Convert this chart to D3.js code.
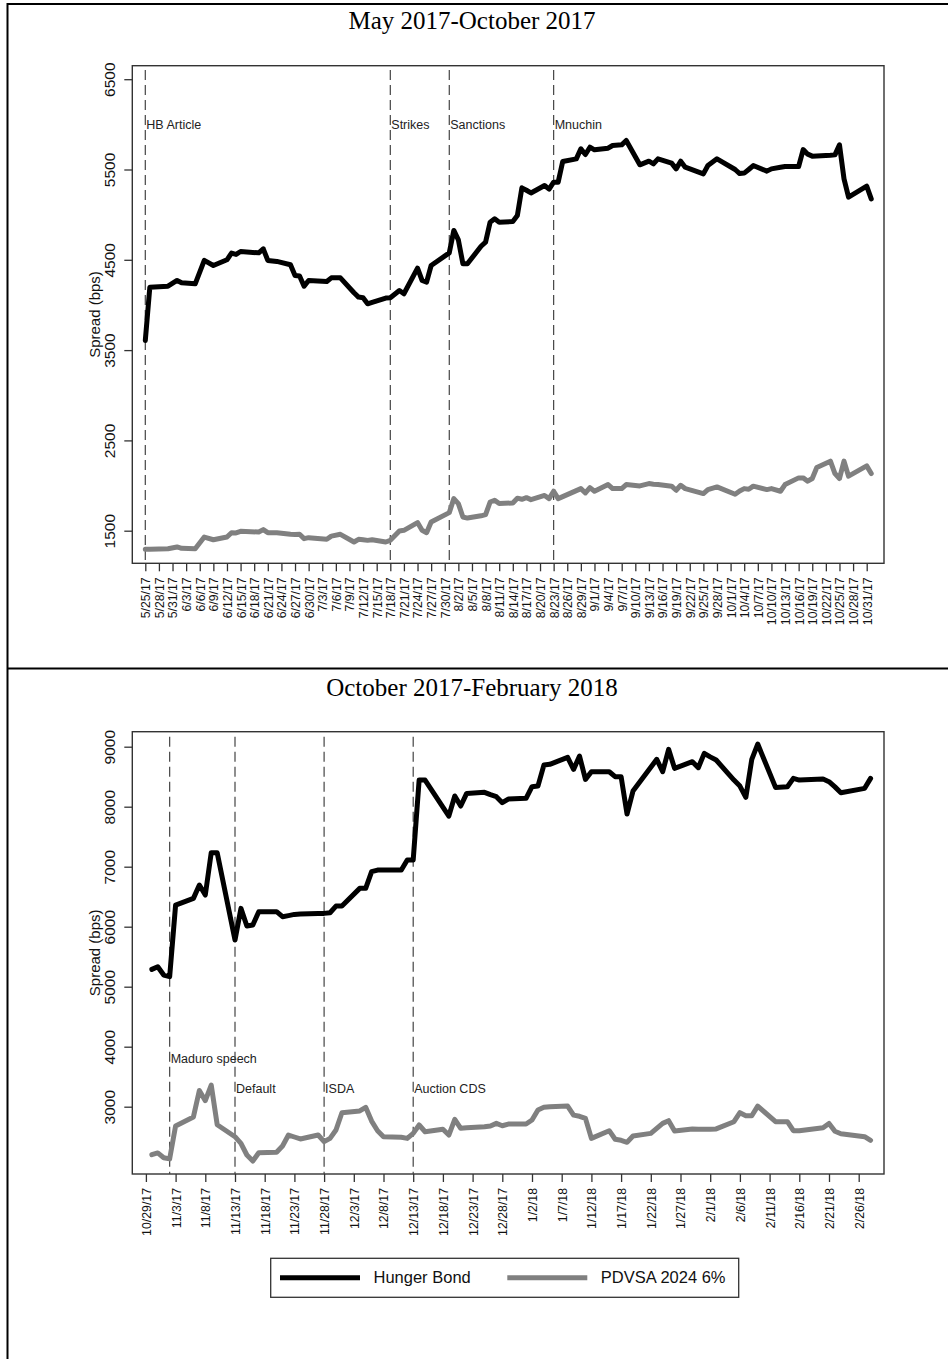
<!DOCTYPE html>
<html><head><meta charset="utf-8">
<script src="https://cdn.jsdelivr.net/npm/d3@7"></script>
<style>html,body{margin:0;padding:0;background:#fff}</style>
</head><body>
<script>
// ---------- DATA ----------
const topTitle = "May 2017-October 2017";
const bottomTitle = "October 2017-February 2018";
const seriesNames = ["Hunger Bond", "PDVSA 2024 6%"];

const topDates = ["2017-05-25","2017-05-26","2017-05-30","2017-06-01","2017-06-02","2017-06-05","2017-06-07","2017-06-09","2017-06-12","2017-06-13","2017-06-14","2017-06-15","2017-06-19","2017-06-20","2017-06-21","2017-06-23","2017-06-26","2017-06-27","2017-06-28","2017-06-29","2017-06-30","2017-07-04","2017-07-05","2017-07-07","2017-07-10","2017-07-11","2017-07-12","2017-07-13","2017-07-14","2017-07-17","2017-07-18","2017-07-20","2017-07-21","2017-07-24","2017-07-25","2017-07-26","2017-07-27","2017-07-31","2017-08-01","2017-08-02","2017-08-03","2017-08-04","2017-08-07","2017-08-08","2017-08-09","2017-08-10","2017-08-11","2017-08-14","2017-08-15","2017-08-16","2017-08-17","2017-08-18","2017-08-21","2017-08-22","2017-08-23","2017-08-24","2017-08-25","2017-08-28","2017-08-29","2017-08-30","2017-08-31","2017-09-01","2017-09-04","2017-09-05","2017-09-07","2017-09-08","2017-09-11","2017-09-13","2017-09-14","2017-09-15","2017-09-18","2017-09-19","2017-09-20","2017-09-21","2017-09-25","2017-09-26","2017-09-28","2017-10-02","2017-10-03","2017-10-04","2017-10-05","2017-10-06","2017-10-09","2017-10-10","2017-10-12","2017-10-13","2017-10-16","2017-10-17","2017-10-18","2017-10-19","2017-10-20","2017-10-23","2017-10-24","2017-10-25","2017-10-26","2017-10-27","2017-10-31","2017-11-01"];
const topHunger = [3607,4197,4208,4271,4245,4234,4493,4437,4500,4574,4560,4592,4577,4622,4493,4482,4445,4327,4320,4208,4271,4260,4300,4300,4135,4087,4080,4013,4029,4076,4080,4160,4124,4408,4271,4253,4437,4577,4825,4721,4456,4456,4650,4696,4917,4954,4917,4924,4990,5297,5270,5240,5323,5283,5360,5360,5589,5618,5729,5666,5747,5718,5736,5766,5773,5821,5552,5592,5563,5618,5570,5507,5592,5526,5452,5544,5618,5500,5455,5460,5500,5544,5482,5507,5525,5533,5533,5721,5670,5648,5650,5658,5662,5773,5397,5194,5315,5175];
const topPdvsa = [1295,1295,1300,1320,1305,1300,1430,1400,1430,1478,1475,1493,1485,1512,1478,1478,1460,1458,1460,1412,1423,1405,1440,1460,1375,1405,1400,1393,1400,1375,1393,1497,1504,1590,1504,1478,1597,1700,1855,1800,1652,1640,1665,1678,1818,1837,1800,1807,1860,1848,1866,1844,1890,1855,1937,1855,1877,1944,1966,1918,1977,1937,2011,1966,1966,2011,1996,2022,2015,2011,1993,1948,2003,1966,1911,1955,1985,1904,1940,1966,1959,1993,1955,1966,1937,2011,2085,2085,2048,2078,2200,2270,2133,2078,2270,2104,2218,2133];

const bottomDates = ["2017-10-30","2017-10-31","2017-11-01","2017-11-02","2017-11-03","2017-11-06","2017-11-07","2017-11-08","2017-11-09","2017-11-10","2017-11-13","2017-11-14","2017-11-15","2017-11-16","2017-11-17","2017-11-20","2017-11-21","2017-11-22","2017-11-23","2017-11-24","2017-11-27","2017-11-28","2017-11-29","2017-11-30","2017-12-01","2017-12-04","2017-12-05","2017-12-06","2017-12-07","2017-12-08","2017-12-11","2017-12-12","2017-12-13","2017-12-14","2017-12-15","2017-12-18","2017-12-19","2017-12-20","2017-12-21","2017-12-22","2017-12-25","2017-12-26","2017-12-27","2017-12-28","2017-12-29","2018-01-01","2018-01-02","2018-01-03","2018-01-04","2018-01-05","2018-01-08","2018-01-09","2018-01-10","2018-01-11","2018-01-12","2018-01-15","2018-01-16","2018-01-17","2018-01-18","2018-01-19","2018-01-22","2018-01-23","2018-01-24","2018-01-25","2018-01-26","2018-01-29","2018-01-30","2018-01-31","2018-02-01","2018-02-02","2018-02-05","2018-02-06","2018-02-07","2018-02-08","2018-02-09","2018-02-12","2018-02-14","2018-02-15","2018-02-16","2018-02-20","2018-02-21","2018-02-22","2018-02-23","2018-02-27","2018-02-28"];
const bottomHunger = [5289,5333,5194,5167,6361,6472,6694,6528,7233,7233,5778,6306,6011,6028,6250,6250,6167,6185,6205,6210,6220,6222,6233,6344,6344,6639,6639,6917,6944,6944,6944,7111,7111,8444,8444,7994,7844,8178,8011,8222,8239,8200,8167,8067,8128,8139,8333,8344,8694,8706,8822,8622,8844,8456,8583,8583,8500,8500,7878,8261,8657,8789,8583,8956,8639,8750,8650,8889,8830,8778,8444,8344,8156,8789,9044,8322,8333,8472,8444,8461,8417,8330,8233,8306,8472];
const bottomPdvsa = [2200,2230,2150,2130,2680,2830,3270,3100,3360,2700,2500,2390,2195,2095,2233,2240,2345,2528,2495,2462,2528,2417,2472,2611,2900,2930,2990,2760,2600,2500,2490,2472,2555,2695,2583,2623,2528,2790,2640,2650,2665,2678,2722,2683,2711,2711,2778,2945,2990,3000,3010,2860,2840,2806,2472,2600,2457,2440,2407,2512,2555,2640,2722,2767,2595,2628,2625,2625,2623,2630,2750,2900,2850,2850,3010,2750,2750,2600,2600,2650,2720,2590,2550,2500,2440];

const topEventDates = ["2017-05-25","2017-07-18","2017-07-31","2017-08-23"];
const topEventLabels = ["HB Article","Strikes","Sanctions","Mnuchin"];
const topEventLevels = [6000,6000,6000,6000];
const bottomEventDates = ["2017-11-02","2017-11-13","2017-11-28","2017-12-13"];
const bottomEventLabels = ["Maduro speech","Default","ISDA","Auction CDS"];
const bottomEventLevels = [3800,3300,3300,3300];

const topYTicks = [1500,2500,3500,4500,5500,6500];
const bottomYTicks = [3000,4000,5000,6000,7000,8000,9000];
const topTickStart = "2017-05-25", topTickEnd = "2017-10-31", topTickStep = 3;
const bottomTickStart = "2017-10-29", bottomTickEnd = "2018-02-26", bottomTickStep = 5;
const yAxisTitle = "Spread (bps)";

// ---------- DRAW ----------
const parse = d3.utcParse("%Y-%m-%d");
const fmt = d3.utcFormat("%-m/%-d/%y");
const svg = d3.select("body").append("svg").attr("width",948).attr("height",1359)
  .style("font-family","'Liberation Sans', Arial, sans-serif");
svg.append("rect").attr("width",948).attr("height",1359).attr("fill","#fff");

// outer figure lines
svg.append("line").attr("x1",7.5).attr("x2",948).attr("y1",4).attr("y2",4).attr("stroke","#000").attr("stroke-width",2);
svg.append("line").attr("x1",7.5).attr("x2",7.5).attr("y1",3).attr("y2",1359).attr("stroke","#000").attr("stroke-width",2);
svg.append("line").attr("x1",7.5).attr("x2",948).attr("y1",668.5).attr("y2",668.5).attr("stroke","#000").attr("stroke-width",2);

function panel(o){
  const g = svg.append("g");
  const x = d3.scaleUtc().domain([parse(o.tickStart), parse(o.tickEnd)]).range(o.xr);
  const y = d3.scaleLinear().domain(o.yd).range(o.yr);
  // title
  g.append("text").attr("x",472).attr("y",o.titleY).attr("text-anchor","middle")
    .style("font-family","'Liberation Serif','Times New Roman',serif").style("font-size","25px").text(o.title);
  // frame
  g.append("rect").attr("x",o.fx0).attr("y",o.fy0).attr("width",o.fx1-o.fx0).attr("height",o.fy1-o.fy0)
    .attr("fill","none").attr("stroke","#333").attr("stroke-width",1.4);
  // y axis
  const ya = g.append("g").attr("transform",`translate(${o.fx0},0)`)
    .call(d3.axisLeft(y).tickValues(o.yTicks).tickSize(8).tickSizeOuter(0).tickFormat(d3.format("d")));
  ya.select(".domain").remove();
  ya.selectAll(".tick line").attr("stroke","#333").attr("stroke-width",1.3);
  ya.selectAll(".tick text").attr("transform","rotate(-90)").attr("x",0).attr("y",-17).attr("dy",0)
    .attr("text-anchor","middle").style("font-size","15.5px").attr("fill","#111")
    .style("font-family","'Liberation Sans', Arial, sans-serif");
  g.append("text").attr("transform",`translate(100,${(o.fy0+o.fy1)/2}) rotate(-90)`).attr("text-anchor","middle")
    .style("font-size","15px").attr("fill","#111").text(yAxisTitle);
  // x axis
  const ticks = d3.utcDay.range(parse(o.tickStart), d3.utcDay.offset(parse(o.tickEnd),1), o.tickStep);
  const xa = g.append("g").attr("transform",`translate(0,${o.fy1})`)
    .call(d3.axisBottom(x).tickValues(ticks).tickSize(8).tickSizeOuter(0).tickFormat(fmt));
  xa.select(".domain").remove();
  xa.selectAll(".tick line").attr("stroke","#333").attr("stroke-width",1.3);
  xa.selectAll(".tick text").attr("transform","rotate(-90)").attr("x",-14).attr("y",0).attr("dy","0.36em")
    .attr("text-anchor","end").style("font-size","12.3px").attr("fill","#111")
    .style("font-family","'Liberation Sans', Arial, sans-serif");
  // events
  o.evDates.forEach((d,i)=>{
    const ex = x(parse(d));
    g.append("line").attr("x1",ex).attr("x2",ex).attr("y1",o.evTop).attr("y2",o.fy1)
      .attr("stroke","#444").attr("stroke-width",1.2).attr("stroke-dasharray","10,5");
    g.append("text").attr("x",ex+1).attr("y",y(o.evLevels[i])).attr("dy","0.35em")
      .style("font-size","12.5px").attr("fill","#222").text(o.evLabels[i]);
  });
  // lines
  const dates = o.dates.map(parse);
  const line = d3.line().x((d,i)=>x(dates[i])).y(d=>y(d));
  g.append("path").datum(o.pdvsa).attr("d",line).attr("fill","none").attr("stroke","#808080")
    .attr("stroke-width",5).attr("stroke-linejoin","round").attr("stroke-linecap","round");
  g.append("path").datum(o.hunger).attr("d",line).attr("fill","none").attr("stroke","#000")
    .attr("stroke-width",5).attr("stroke-linejoin","round").attr("stroke-linecap","round");
  return {x,y};
}

panel({title:topTitle, titleY:29, fx0:132.3, fx1:884, fy0:65.7, fy1:563.3,
  tickStart:topTickStart, tickEnd:topTickEnd, tickStep:topTickStep, xr:[145.3,866.7],
  yd:[1500,6500], yr:[530.7,79.2], yTicks:topYTicks,
  evDates:topEventDates, evLabels:topEventLabels, evLevels:topEventLevels, evTop:70,
  dates:topDates, hunger:topHunger, pdvsa:topPdvsa});

panel({title:bottomTitle, titleY:696, fx0:132.3, fx1:884, fy0:731.7, fy1:1174,
  tickStart:bottomTickStart, tickEnd:bottomTickEnd, tickStep:bottomTickStep, xr:[145.9,858.7],
  yd:[3000,9000], yr:[1106.7,746.7], yTicks:bottomYTicks,
  evDates:bottomEventDates, evLabels:bottomEventLabels, evLevels:bottomEventLevels, evTop:736.7,
  dates:bottomDates, hunger:bottomHunger, pdvsa:bottomPdvsa});

// legend
const lg = svg.append("g");
lg.append("rect").attr("x",270.7).attr("y",1258.3).attr("width",468).attr("height",39)
  .attr("fill","#fff").attr("stroke","#333").attr("stroke-width",1.3);
const legColors = ["#000","#808080"];
const legX = [280, 507.3];
seriesNames.forEach((n,i)=>{
  lg.append("line").attr("x1",legX[i]).attr("x2",legX[i]+80).attr("y1",1277.7).attr("y2",1277.7)
    .attr("stroke",legColors[i]).attr("stroke-width",5);
  lg.append("text").attr("x",legX[i]+93.5).attr("y",1277.7).attr("dy","0.35em")
    .style("font-size","16.5px").attr("fill","#111").text(n);
});
</script>
</body></html>
